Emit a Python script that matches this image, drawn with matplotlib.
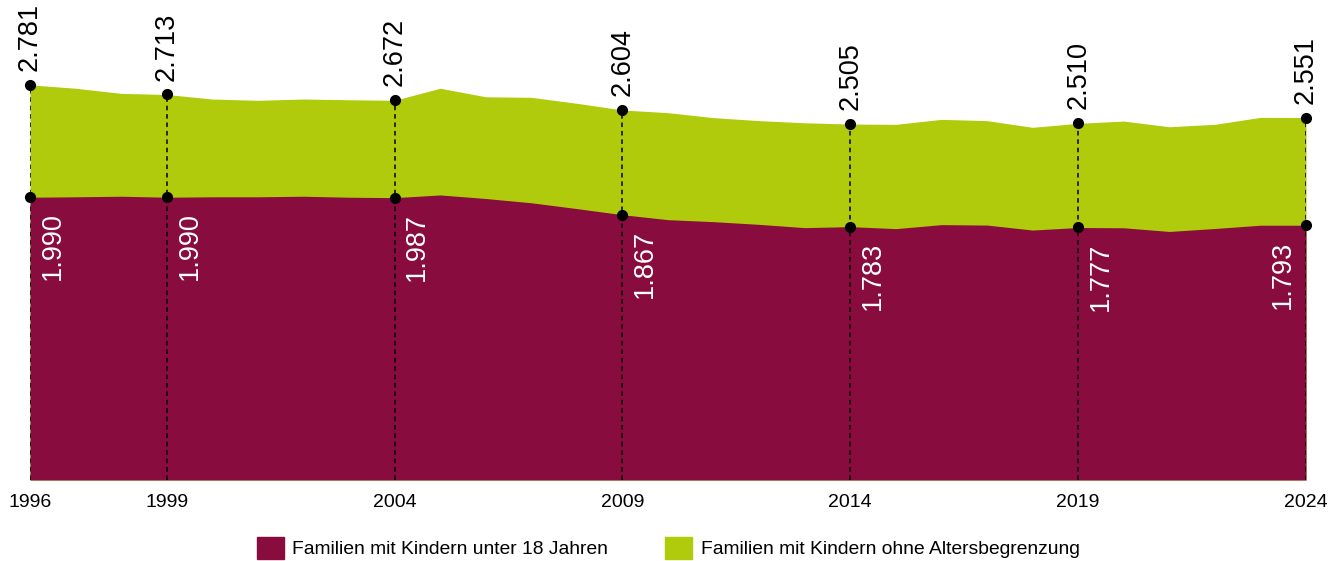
import matplotlib
matplotlib.use('Agg')
import matplotlib.pyplot as plt
from matplotlib.patches import Patch

plt.rcParams['font.family'] = ['Liberation Sans', 'DejaVu Sans']

# data (in thousands, German number format in labels)
years = list(range(1996, 2025))
total = [2781, 2757, 2721, 2713, 2681, 2672, 2681, 2676, 2672, 2757,
         2697, 2693, 2651, 2604, 2585, 2550, 2529, 2514, 2505, 2503,
         2538, 2529, 2482, 2510, 2526, 2486, 2503, 2552, 2551]
under18 = [1990, 1993, 1997, 1990, 1993, 1993, 1997, 1990, 1987, 2006,
           1981, 1951, 1910, 1867, 1832, 1818, 1799, 1776, 1783, 1769,
           1797, 1794, 1759, 1777, 1775, 1749, 1770, 1793, 1793]
label_years = [1996, 1999, 2004, 2009, 2014, 2019, 2024]
series_names = ['Familien mit Kindern unter 18 Jahren',
                'Familien mit Kindern ohne Altersbegrenzung']

maroon = '#880C3E'
green = '#B0CA0C'

fig = plt.figure(figsize=(13.44, 5.61), dpi=100)
ax = fig.add_axes([30 / 1344, 81 / 561, 1276 / 1344, 480 / 561])

ax.fill_between(years, 0, total, color=green, lw=0)
ax.fill_between(years, 0, under18, color=maroon, lw=0)

ax.set_xlim(1996, 2024)
ax.set_ylim(0, 3378)

def fmt(v):
    return f'{v / 1000:.3f}'

for y in label_years:
    i = years.index(y)
    t, u = total[i], under18[i]
    ax.plot([y, y], [0, t], color='black', lw=1.1, ls=(0, (3, 2.5)), zorder=3)
    ax.plot([y, y], [u, t], 'o', color='black', ms=7, zorder=4, clip_on=False)
    ax.annotate(fmt(t), (y, t), xytext=(0, 10), textcoords='offset points',
                rotation=90, ha='center', va='bottom', fontsize=19.5,
                color='black', annotation_clip=False)
    if y == label_years[-1]:
        dx, ha = -7, 'right'
    else:
        dx, ha = 7, 'left'
    ax.annotate(fmt(u), (y, u), xytext=(dx, -11), textcoords='offset points',
                rotation=90, ha=ha, va='top', fontsize=19.5,
                color='white', annotation_clip=False)

ax.set_xticks(label_years)
ax.set_xticklabels([str(y) for y in label_years], fontsize=14)
ax.tick_params(axis='x', length=0, pad=10)
ax.set_yticks([])
for s in ax.spines.values():
    s.set_visible(False)

handles = [Patch(color=maroon), Patch(color=green)]
fig.legend(handles, series_names, loc='center', bbox_to_anchor=(668 / 1344, 13 / 561),
           ncol=2, frameon=False, fontsize=13.9, handlelength=1.4, handleheight=1.4,
           handletextpad=0.42, columnspacing=3.0, borderpad=0)

fig.savefig('out.png', dpi=100)
